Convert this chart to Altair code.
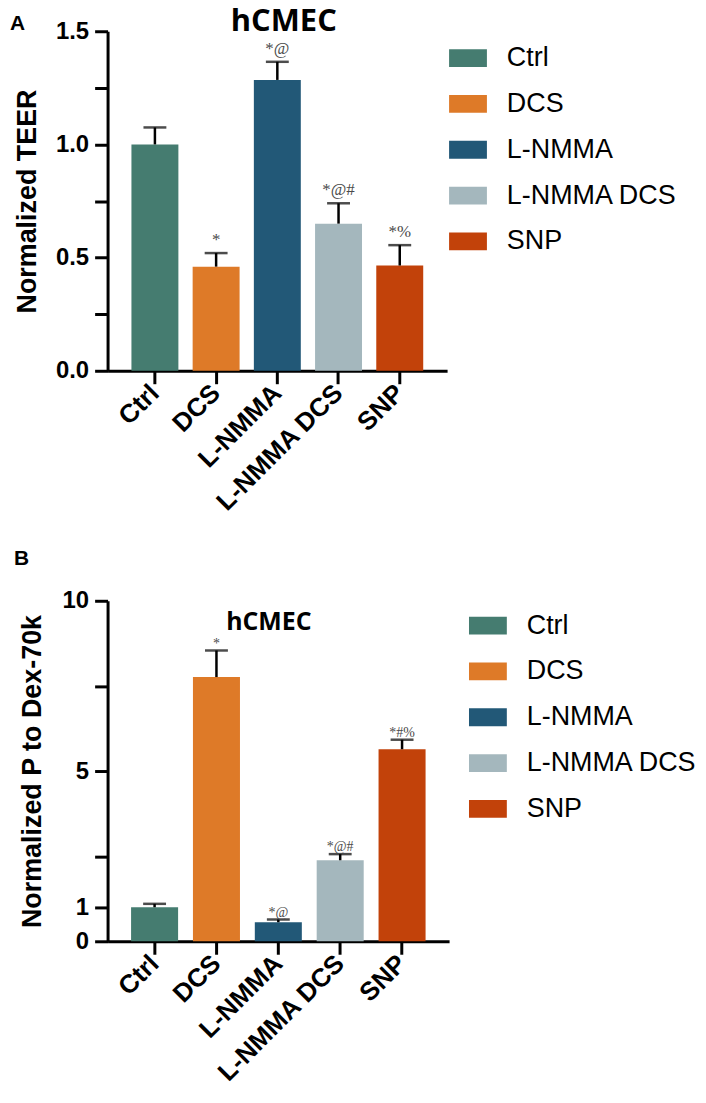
import altair as alt
import pandas as pd

cats = ["Ctrl", "DCS", "L-NMMA", "L-NMMA DCS", "SNP"]
colors = ["#457c70", "#de7a28", "#225877", "#a4b7bd", "#c2420a"]

teer_mean = [1.0, 0.46, 1.285, 0.65, 0.465]
teer_upper = [1.075, 0.52, 1.365, 0.74, 0.555]
teer_ann = ["", "*", "*@", "*@#", "*%"]

perm_mean = [1.0, 7.76, 0.56, 2.38, 5.64]
perm_upper = [1.1, 8.54, 0.64, 2.56, 5.92]
perm_ann = ["", "*", "*@", "*@#", "*#%"]

teer_ticks = [0, 0.25, 0.5, 0.75, 1.0, 1.25, 1.5]
perm_ticks = [0, 1, 2.5, 5, 7.5, 10]

LEG_SYMBOL = "M-1,-0.47L1,-0.47L1,0.47L-1,0.47Z"


def panel(mean, upper, ann, ymax, ticks, label_expr, ytitle, w, h,
          pi, po, legx, legy, title_x, title_y, title_size, ann_size, ann_dy,
          letter, letter_x, letter_y, letter_size, title_pad):
    df = pd.DataFrame({"cat": cats, "mean": mean, "upper": upper, "ann": ann})
    xs = alt.X("cat:N", sort=cats, title=None,
               scale=alt.Scale(paddingInner=pi, paddingOuter=po),
               axis=alt.Axis(labelAngle=-45, labelAlign="right", labelBaseline="middle",
                             labelPadding=5, labelFontSize=26))
    ys = alt.Y("mean:Q", title=ytitle,
               scale=alt.Scale(domain=[0, ymax], nice=False, zero=True),
               axis=alt.Axis(values=ticks, labelExpr=label_expr, labelOverlap=False,
                             labelPadding=6, titlePadding=title_pad))
    bars = alt.Chart(df).mark_bar().encode(
        x=xs, y=ys,
        color=alt.Color("cat:N", sort=cats,
                        scale=alt.Scale(domain=cats, range=colors),
                        legend=alt.Legend(orient="none", legendX=legx, legendY=legy,
                                          title=None, symbolType=LEG_SYMBOL,
                                          symbolSize=1444, symbolStrokeWidth=0,
                                          labelFont="Liberation Sans", labelFontSize=27,
                                          labelColor="black", labelOffset=20,
                                          labelLimit=0, rowPadding=14, padding=0)),
    )
    xe = alt.X("cat:N", sort=cats, title=None)
    rules = alt.Chart(df).mark_rule(color="black", strokeWidth=2.5).encode(
        x=xe, y=alt.Y("mean:Q"), y2="upper:Q")
    caps = alt.Chart(df).mark_tick(color="black", thickness=2.5, size=23,
                                   orient="horizontal").encode(x=xe, y=alt.Y("upper:Q"))
    texts = alt.Chart(df).mark_text(font="Liberation Serif", fontSize=ann_size,
                                    color="#4a4a4a", baseline="alphabetic",
                                    dy=ann_dy).encode(x=xe, y=alt.Y("upper:Q"), text="ann:N")
    title = alt.Chart(pd.DataFrame({"t": ["hCMEC"]})).mark_text(
        font="Open Sans", fontWeight="bold", fontSize=title_size, color="black",
        baseline="alphabetic", align="center").encode(
        x=alt.value(title_x), y=alt.value(title_y), text="t:N")
    let = alt.Chart(pd.DataFrame({"t": [letter]})).mark_text(
        font="Liberation Sans", fontWeight="bold", fontSize=letter_size, color="black",
        baseline="alphabetic", align="left").encode(
        x=alt.value(letter_x), y=alt.value(letter_y), text="t:N")
    return alt.layer(bars, rules, caps, texts, title, let).properties(width=w, height=h)


a = panel(teer_mean, teer_upper, teer_ann, 1.5, teer_ticks,
          "datum.value % 0.5 == 0 ? format(datum.value, '.1f') : ''",
          "Normalized TEER", 341, 341, 0.233, 0.39, 343, 8,
          177, 0, 31, 17, -8, "A", -98, -1, 21, 14)
b = panel(perm_mean, perm_upper, perm_ann, 10, perm_ticks,
          "(datum.value == 2.5 || datum.value == 7.5) ? '' : format(datum.value, 'd')",
          "Normalized P to Dex-70k", 343, 342, 0.24, 0.38, 363, 6,
          162, 29, 25, 14, -3, "B", -94, -36, 21, 16)

chart = alt.vconcat(a, b, spacing=32).resolve_legend(color="independent").properties(
    padding={"left": 2, "top": -4, "right": 0, "bottom": 0}
).configure_view(stroke=None).configure_axis(
    grid=False, domainColor="black", domainWidth=3, tickColor="black", tickWidth=3,
    tickSize=13, labelFont="Liberation Sans", labelFontWeight="bold", labelFontSize=24,
    labelColor="black", titleFont="Liberation Sans", titleFontSize=27,
    titleFontWeight="bold", titleColor="black"
)

chart.save("out.html", embed_options={"renderer": "svg", "actions": False})
